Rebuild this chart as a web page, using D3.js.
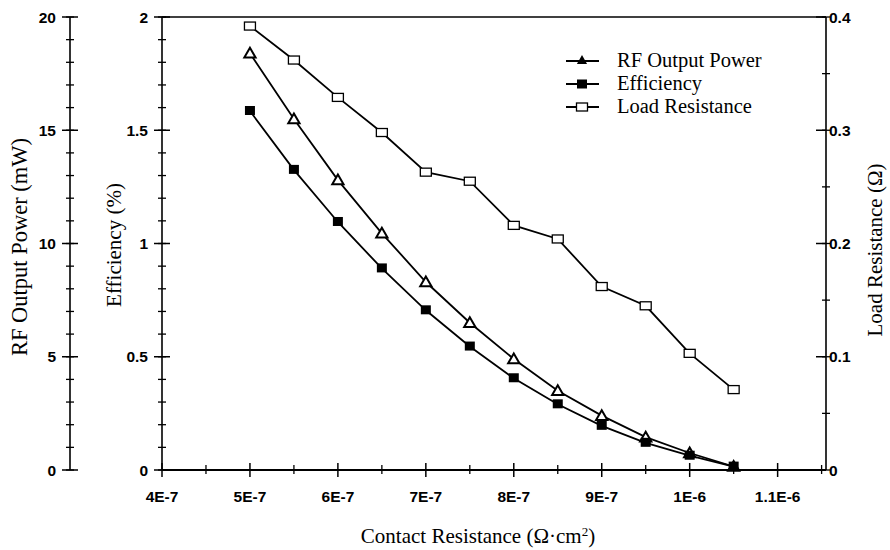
<!DOCTYPE html>
<html><head><meta charset="utf-8">
<script src="https://cdn.jsdelivr.net/npm/d3@7"></script>
<style>
body{margin:0;background:#fff;}
</style>
</head><body>
<svg id="c" width="890" height="550"></svg>
<script>
const contactRes = [5e-7,5.5e-7,6e-7,6.5e-7,7e-7,7.5e-7,8e-7,8.5e-7,9e-7,9.5e-7,1e-6,1.05e-6];
const rfPower = [18.4,15.5,12.8,10.45,8.3,6.5,4.9,3.5,2.4,1.45,0.75,0.15];
const efficiency = [1.585,1.325,1.095,0.89,0.705,0.545,0.405,0.29,0.195,0.12,0.063,0.015];
const loadRes = [0.392,0.362,0.329,0.298,0.263,0.255,0.216,0.204,0.162,0.145,0.103,0.071];
const xTicks = [4e-7,5e-7,6e-7,7e-7,8e-7,9e-7,1e-6,1.1e-6];
const xTickLabels = ["4E-7","5E-7","6E-7","7E-7","8E-7","9E-7","1E-6","1.1E-6"];
const powerTicks = [0,5,10,15,20];
const effTicks = [0,0.5,1,1.5,2];
const loadTicks = [0,0.1,0.2,0.3,0.4];
const legendNames = ["RF Output Power","Efficiency","Load Resistance"];

(function(){
const svg = d3.select("#c");
const yTop = 17, yBot = 470;
const x = d3.scaleLinear().domain([4e-7,1.155e-6]).range([162,826]);
const yP = d3.scaleLinear().domain([0,20]).range([yBot,yTop]);
const yE = d3.scaleLinear().domain([0,2]).range([yBot,yTop]);
const yL = d3.scaleLinear().domain([0,0.4]).range([yBot,yTop]);

const serif = "'Liberation Serif','Times New Roman',serif";
const sans = "'Liberation Sans',Arial,sans-serif";
const tickFont = 15.5;

function vAxis(xpos, scale, major, minorStep, fmt, side, majLeft, majRight){
  const g = svg.append("g");
  g.append("line").attr("x1",xpos).attr("x2",xpos).attr("y1",scale.range()[1]).attr("y2",scale.range()[0]).attr("stroke","#000").attr("stroke-width",1.6);
  const d = scale.domain();
  const minors = d3.range(d[0], d[1]+minorStep/2, minorStep);
  g.selectAll(".mn").data(minors).join("line")
    .attr("x1",xpos-4).attr("x2",xpos+4).attr("y1",v=>scale(v)).attr("y2",v=>scale(v)).attr("stroke","#000").attr("stroke-width",1.3);
  g.selectAll(".mj").data(major).join("line")
    .attr("x1",xpos-majLeft).attr("x2",xpos+majRight).attr("y1",v=>scale(v)).attr("y2",v=>scale(v)).attr("stroke","#000").attr("stroke-width",1.5);
  g.selectAll("text").data(major).join("text")
    .attr("x", side<0 ? xpos-majLeft-6 : xpos+majRight+3)
    .attr("y",v=>scale(v)+5.5)
    .attr("text-anchor", side<0 ? "end":"start")
    .attr("font-family",sans).attr("font-size",tickFont).attr("font-weight","bold")
    .text(fmt);
}
vAxis(70, yP, powerTicks, 1, d=>d, -1, 8, 8);
vAxis(162, yE, effTicks, 0.1, d=>d, -1, 8, 8);
vAxis(826, yL, loadTicks, 0.05, d=>d===0?"0":d3.format(".1f")(d), 1, 10, 0);

svg.append("line").attr("x1",162).attr("x2",826).attr("y1",yTop).attr("y2",yTop).attr("stroke","#000").attr("stroke-width",1.6);

const gx = svg.append("g");
gx.append("line").attr("x1",162).attr("x2",826).attr("y1",yBot).attr("y2",yBot).attr("stroke","#000").attr("stroke-width",1.8);
const xMinors = d3.range(4.5e-7, 1.15e-6, 1e-7);
gx.selectAll(".mn").data(xMinors).join("line")
  .attr("x1",v=>x(v)).attr("x2",v=>x(v)).attr("y1",yBot-5).attr("y2",yBot+4).attr("stroke","#000").attr("stroke-width",1.3);
gx.selectAll(".mj").data(xTicks).join("line")
  .attr("x1",v=>x(v)).attr("x2",v=>x(v)).attr("y1",yBot-7).attr("y2",yBot+7).attr("stroke","#000").attr("stroke-width",1.5);
gx.selectAll("text").data(xTicks).join("text")
  .attr("x",v=>x(v)).attr("y",yBot+32).attr("text-anchor","middle")
  .attr("font-family",sans).attr("font-size",tickFont).attr("font-weight","bold")
  .text((d,i)=>xTickLabels[i]);

svg.append("text").attr("x",478).attr("y",543).attr("text-anchor","middle").attr("font-family",serif).attr("font-size",21)
  .html('Contact Resistance (Ω·cm<tspan dy="-7" font-size="13">2</tspan><tspan dy="7">)</tspan>');
svg.append("text").attr("transform","translate(27,247) rotate(-90)").attr("text-anchor","middle").attr("font-family",serif).attr("font-size",22.5).text("RF Output Power (mW)");
svg.append("text").attr("transform","translate(121,245) rotate(-90)").attr("text-anchor","middle").attr("font-family",serif).attr("font-size",21).text("Efficiency (%)");
svg.append("text").attr("transform","translate(882,250) rotate(-90)").attr("text-anchor","middle").attr("font-family",serif).attr("font-size",21).text("Load Resistance (Ω)");

function series(vals, scale){
  const pts = contactRes.map((c,i)=>[x(c), scale(vals[i])]);
  svg.append("path").attr("d", d3.line()(pts)).attr("fill","none").attr("stroke","#000").attr("stroke-width",1.8);
  return pts;
}
const pL = series(loadRes, yL);
const pP = series(rfPower, yP);
const pE = series(efficiency, yE);
const tri = d3.symbol().type(d3.symbolTriangle).size(55);
svg.selectAll(".tp").data(pP).join("path").attr("transform",d=>`translate(${d[0]},${d[1]+1})`).attr("d",tri())
  .attr("fill","#fff").attr("stroke","#000").attr("stroke-width",2);
svg.selectAll(".ep").data(pE).join("rect").attr("x",d=>d[0]-5).attr("y",d=>d[1]-5).attr("width",10).attr("height",9).attr("fill","#000");
svg.selectAll(".lp").data(pL).join("rect").attr("x",d=>d[0]-5.5).attr("y",d=>d[1]-4).attr("width",11).attr("height",8).attr("fill","#fff").attr("stroke","#000").attr("stroke-width",1.3);

const lg = svg.append("g");
const rowsY = [61, 84, 107];
legendNames.forEach((n,i)=>{
  const y = rowsY[i];
  lg.append("line").attr("x1",566).attr("x2",599).attr("y1",y).attr("y2",y).attr("stroke","#000").attr("stroke-width",1.8);
  if(i===0) lg.append("path").attr("transform",`translate(582,${y})`).attr("d",d3.symbol().type(d3.symbolTriangle).size(45)()).attr("fill","#000");
  if(i===1) lg.append("rect").attr("x",577).attr("y",y-4.5).attr("width",10).attr("height",9).attr("fill","#000");
  if(i===2) lg.append("rect").attr("x",576.5).attr("y",y-4).attr("width",11).attr("height",8).attr("fill","#fff").attr("stroke","#000").attr("stroke-width",1.3);
  lg.append("text").attr("x",617).attr("y",y+6).attr("font-family",serif).attr("font-size",20.5).text(n);
});
})();
</script>
</body></html>
